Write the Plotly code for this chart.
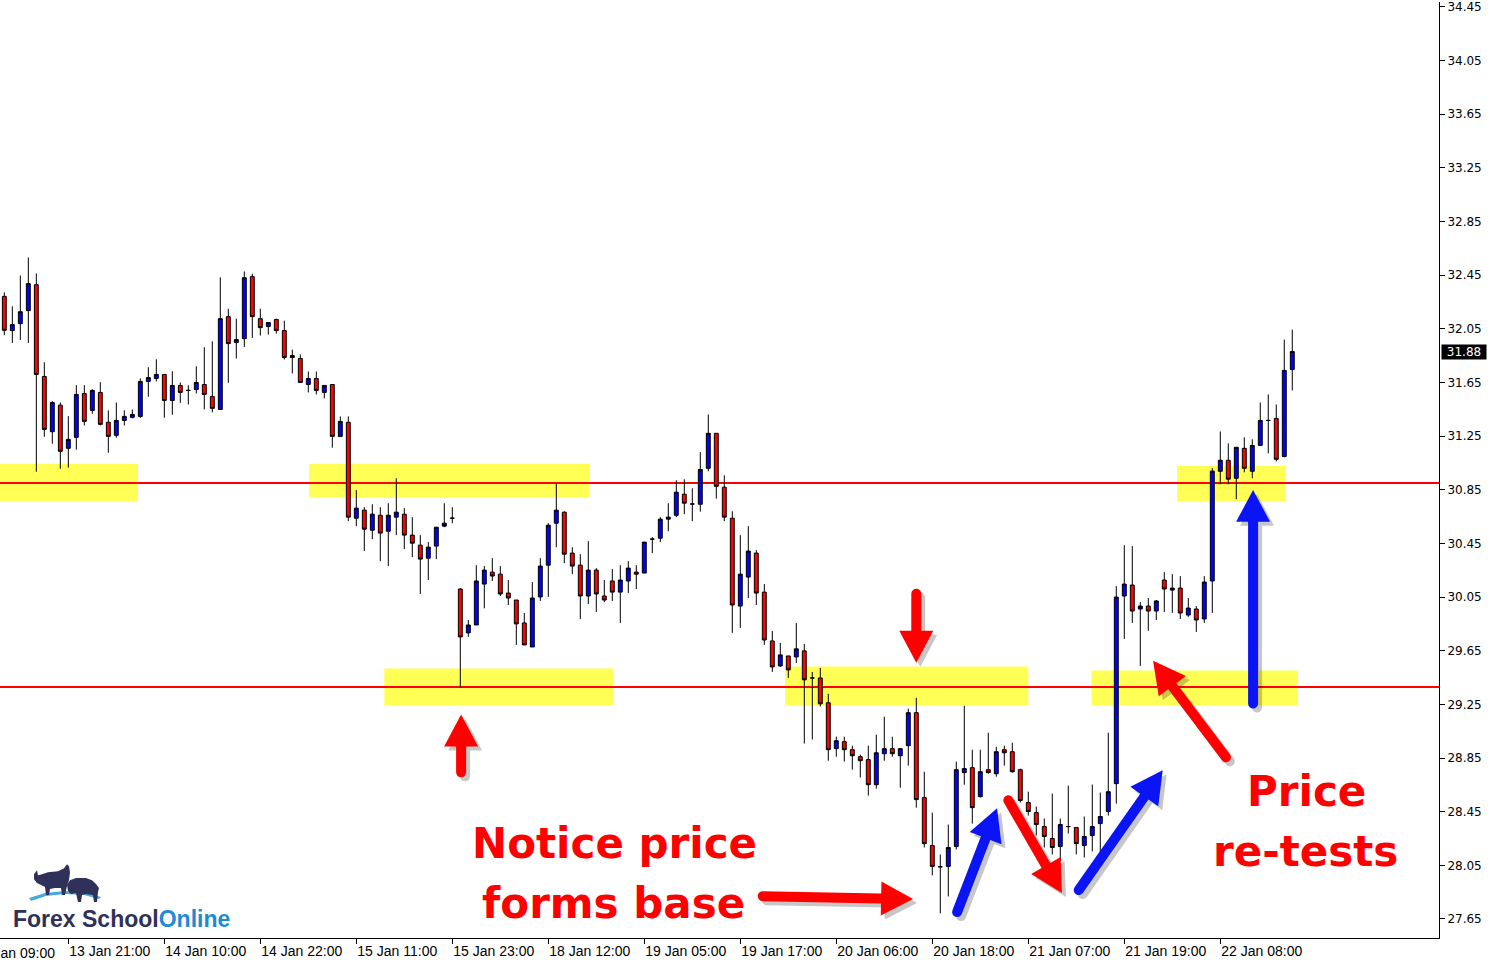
import math
import plotly.graph_objects as go

# hourly candles (index 0 = first visible bar)
opens = [32.292, 32.037, 32.089, 32.186, 32.379, 31.695, 31.283, 31.481, 31.159, 31.241,
         31.568, 31.442, 31.576, 31.353, 31.256, 31.367, 31.390, 31.397, 31.658, 31.680,
         31.710, 31.516, 31.628, 31.591, 31.598, 31.635, 31.546, 31.449, 32.141, 31.948,
         31.977, 32.439, 32.126, 32.067, 32.119, 32.037, 31.851, 31.829, 31.635, 31.680,
         31.576, 31.635, 31.248, 31.353, 30.638, 30.698, 30.549, 30.660, 30.541, 30.646,
         30.668, 30.512, 30.437, 30.340, 30.430, 30.579, 30.638, 30.110, 29.783, 29.842,
         30.147, 30.236, 30.221, 30.080, 30.028, 29.857, 29.678, 30.051, 30.288, 30.601,
         30.683, 30.378, 30.288, 30.058, 30.251, 30.058, 30.170, 30.087, 30.170, 30.236,
         30.229, 30.482, 30.489, 30.631, 30.660, 30.817, 30.744, 30.742, 31.010, 31.271,
         30.869, 30.638, 29.983, 30.199, 30.378, 30.087, 29.723, 29.537, 29.611, 29.604,
         29.649, 29.447, 29.447, 29.262, 28.920, 28.972, 28.912, 28.860, 28.838, 28.651,
         28.882, 28.920, 28.867, 28.942, 29.188, 28.555, 28.198, 28.039, 28.042, 28.191,
         28.741, 28.778, 28.562, 28.763, 28.733, 28.912, 28.897, 28.763, 28.518, 28.443,
         28.339, 28.250, 28.191, 28.339, 28.332, 28.198, 28.272, 28.361, 28.451, 28.659,
         30.058, 30.140, 29.961, 29.983, 29.946, 30.177, 30.102, 30.117, 29.916, 29.961,
         29.887, 30.170, 30.988, 31.070, 30.936, 31.159, 30.988, 31.181, 31.367, 31.382,
         31.099, 31.747]
highs = [32.322, 32.218, 32.448, 32.582, 32.463, 31.801, 31.511, 31.501, 31.399, 31.630,
         31.630, 31.600, 31.652, 31.442, 31.501, 31.442, 31.449, 31.680, 31.764, 31.823,
         31.710, 31.734, 31.650, 31.630, 31.771, 31.913, 31.957, 32.434, 32.200, 32.126,
         32.478, 32.461, 32.200, 32.097, 32.126, 32.111, 31.895, 31.858, 31.732, 31.732,
         31.628, 31.635, 31.397, 31.397, 30.847, 30.720, 30.742, 30.720, 30.750, 30.936,
         30.713, 30.646, 30.512, 30.460, 30.571, 30.750, 30.720, 30.117, 29.879, 30.288,
         30.281, 30.340, 30.281, 30.177, 30.028, 29.931, 30.162, 30.340, 30.601, 30.899,
         30.690, 30.422, 30.370, 30.467, 30.266, 30.177, 30.259, 30.288, 30.318, 30.288,
         30.460, 30.497, 30.646, 30.750, 30.921, 30.928, 30.861, 31.131, 31.412, 31.271,
         30.958, 30.690, 30.512, 30.579, 30.400, 30.147, 29.797, 29.708, 29.611, 29.857,
         29.701, 29.492, 29.522, 29.329, 29.009, 29.009, 28.942, 28.875, 28.942, 29.024,
         29.158, 29.009, 28.920, 29.218, 29.299, 28.748, 28.443, 28.131, 28.354, 28.823,
         29.239, 28.912, 28.912, 29.039, 28.934, 28.942, 28.964, 28.771, 28.599, 28.488,
         28.399, 28.585, 28.399, 28.644, 28.332, 28.414, 28.652, 28.592, 29.039, 30.132,
         30.437, 30.430, 30.013, 30.043, 30.028, 30.236, 30.221, 30.206, 30.043, 29.983,
         30.206, 31.011, 31.285, 31.196, 31.167, 31.241, 31.226, 31.501, 31.561, 31.486,
         31.970, 32.044]
lows = [32.002, 31.945, 31.967, 31.945, 30.985, 31.245, 31.193, 31.007, 31.015, 31.149,
        31.330, 31.417, 31.330, 31.126, 31.238, 31.330, 31.382, 31.387, 31.543, 31.658,
        31.387, 31.409, 31.498, 31.486, 31.568, 31.449, 31.427, 31.449, 31.647, 31.829,
        31.915, 31.982, 32.000, 32.007, 32.015, 31.821, 31.717, 31.650, 31.576, 31.561,
        31.531, 31.164, 31.248, 30.616, 30.579, 30.393, 30.482, 30.318, 30.281, 30.512,
        30.408, 30.348, 30.073, 30.177, 30.333, 30.571, 30.601, 29.376, 29.753, 29.842,
        29.966, 30.170, 30.058, 29.991, 29.693, 29.693, 29.678, 30.021, 30.051, 30.422,
        30.303, 30.221, 29.887, 29.998, 29.939, 30.013, 30.021, 29.857, 30.080, 30.110,
        30.229, 30.378, 30.460, 30.541, 30.646, 30.668, 30.616, 30.687, 30.988, 30.784,
        30.616, 29.783, 29.820, 30.043, 29.991, 29.693, 29.492, 29.529, 29.447, 29.559,
        28.958, 28.988, 29.234, 28.830, 28.860, 28.823, 28.763, 28.704, 28.570, 28.622,
        28.830, 28.860, 28.629, 28.793, 28.480, 28.183, 27.975, 27.692, 27.818, 28.168,
        28.651, 28.361, 28.555, 28.733, 28.711, 28.793, 28.741, 28.518, 28.421, 28.272,
        28.183, 28.131, 28.079, 28.287, 28.131, 28.108, 28.153, 28.153, 28.421, 28.510,
        29.738, 29.857, 29.537, 29.798, 29.879, 29.939, 29.932, 29.887, 29.902, 29.790,
        29.857, 29.932, 30.891, 30.891, 30.780, 30.980, 30.936, 31.181, 31.122, 31.062,
        31.092, 31.591]
closes = [32.039, 32.082, 32.178, 32.387, 31.710, 31.300, 31.501, 31.137, 31.226, 31.561,
          31.360, 31.591, 31.338, 31.248, 31.367, 31.397, 31.412, 31.658, 31.687, 31.710,
          31.516, 31.628, 31.576, 31.591, 31.650, 31.561, 31.457, 32.126, 31.940, 31.970,
          32.431, 32.141, 32.059, 32.097, 32.037, 31.836, 31.836, 31.650, 31.680, 31.591,
          31.628, 31.248, 31.360, 30.646, 30.713, 30.556, 30.668, 30.527, 30.660, 30.683,
          30.512, 30.452, 30.333, 30.422, 30.571, 30.601, 30.638, 29.753, 29.842, 30.170,
          30.251, 30.207, 30.073, 30.043, 29.850, 29.693, 30.043, 30.281, 30.586, 30.698,
          30.370, 30.281, 30.058, 30.251, 30.073, 30.028, 30.087, 30.177, 30.266, 30.221,
          30.460, 30.482, 30.631, 30.646, 30.832, 30.750, 30.744, 31.002, 31.271, 30.876,
          30.646, 29.991, 30.221, 30.393, 30.080, 29.730, 29.529, 29.619, 29.507, 29.664,
          29.433, 29.447, 29.254, 28.912, 28.979, 28.912, 28.867, 28.830, 28.651, 28.889,
          28.920, 28.882, 28.920, 29.188, 28.540, 28.212, 28.042, 28.039, 28.183, 28.763,
          28.771, 28.480, 28.748, 28.741, 28.897, 28.889, 28.748, 28.533, 28.451, 28.354,
          28.265, 28.183, 28.354, 28.339, 28.212, 28.265, 28.339, 28.414, 28.599, 30.050,
          30.147, 29.946, 29.983, 29.946, 30.021, 30.110, 30.117, 29.931, 29.968, 29.879,
          30.162, 30.989, 31.070, 30.929, 31.167, 31.010, 31.181, 31.367, 31.367, 31.077,
          31.740, 31.881]
bars = list(range(len(opens)))

# time axis labels (bar index -> label)
time_ticks = [8, 20, 32, 44, 56, 68, 80, 92, 104, 116, 128, 140, 152]
time_labels = ["13 Jan 21:00", "14 Jan 10:00", "14 Jan 22:00", "15 Jan 11:00",
               "15 Jan 23:00", "18 Jan 12:00", "19 Jan 05:00", "19 Jan 17:00",
               "20 Jan 06:00", "20 Jan 18:00", "21 Jan 07:00", "21 Jan 19:00",
               "22 Jan 08:00"]
first_tick, first_label = -4, "13 Jan 09:00"

price_ticks = [27.65, 28.05, 28.45, 28.85, 29.25, 29.65, 30.05, 30.45, 30.85,
               31.25, 31.65, 32.05, 32.45, 32.85, 33.25, 33.65, 34.05, 34.45]
price_labels = [f"{p:.2f}" for p in price_ticks]
last_price = 31.88

levels = [30.90, 29.38]
# highlighted zones: (first bar, last bar, low, high)
zones = [(-0.6, 16.7, 30.767, 31.042), (38.1, 73.1, 30.790, 31.042),
         (47.5, 76.1, 29.242, 29.517), (97.6, 128.0, 29.242, 29.532),
         (135.9, 161.7, 29.242, 29.502), (146.6, 160.1, 30.767, 31.027)]

# arrows: (tail bar, tail price, tip bar, tip price, colour)
RED, BLUE = "#ff0000", "#0a14f5"
arrows = [(57.1, 28.743, 57.1, 29.174, RED),
          (114.0, 30.075, 114.0, 29.561, RED),
          (94.8, 27.820, 113.6, 27.798, RED),
          (119.1, 27.701, 124.1, 28.475, BLUE),
          (125.5, 28.535, 132.2, 27.843, RED),
          (134.3, 27.865, 144.8, 28.758, BLUE),
          (152.7, 28.855, 143.6, 29.576, RED),
          (156.1, 29.256, 156.1, 30.849, BLUE)]

notes = [("Notice price", 76.3, 28.212), ("forms base", 76.2, 27.766),
         ("Price", 162.8, 28.602), ("re-tests", 162.7, 28.155)]

# plot geometry (pixels) and ranges
PW, PH = 1439, 938
X0, X1 = -0.54, 179.34
Y0, Y1 = 27.508, 34.487


def to_px(i, p):
    return (i - X0) / (X1 - X0) * PW, (Y1 - p) / (Y1 - Y0) * PH


def to_data(px, py):
    return X0 + px / PW * (X1 - X0), Y1 - py / PH * (Y1 - Y0)


def arrow_path(t_i, t_p, h_i, h_p, shaft=10, head_w=34, head_l=32, off=0):
    tx, ty = to_px(t_i, t_p)
    hx, hy = to_px(h_i, h_p)
    tx, ty, hx, hy = tx + off, ty + off, hx + off, hy + off
    d = math.hypot(hx - tx, hy - ty)
    ux, uy = (hx - tx) / d, (hy - ty) / d
    nx, ny = -uy, ux
    bx, by = hx - ux * head_l, hy - uy * head_l
    s, w = shaft / 2, head_w / 2
    pts = [(bx + nx * s, by + ny * s), (bx + nx * w, by + ny * w), (hx, hy),
           (bx - nx * w, by - ny * w), (bx - nx * s, by - ny * s)]
    # rounded tail
    for k in range(9):
        a = math.pi * k / 8
        ca, sa = math.cos(a), math.sin(a)
        pts.append((tx - nx * s * ca - ux * s * sa, ty - ny * s * ca - uy * s * sa))
    pts = [to_data(x, y) for x, y in pts]
    return "M" + "L".join(f"{x:.3f},{y:.4f}" for x, y in pts) + "Z"


fig = go.Figure()
fig.add_trace(go.Candlestick(
    x=bars, open=opens, high=highs, low=lows, close=closes,
    increasing=dict(fillcolor="#0000ff", line=dict(color="black", width=1)),
    decreasing=dict(fillcolor="#ff0000", line=dict(color="black", width=1)),
    whiskerwidth=0, hoverinfo="skip", showlegend=False))

shapes = []
for x0, x1, lo, hi in zones:
    shapes.append(dict(type="rect", xref="x", yref="y", x0=x0, x1=x1, y0=lo, y1=hi,
                       fillcolor="#ffff55", line=dict(width=0), layer="below"))
for lv in levels:
    shapes.append(dict(type="line", xref="x", yref="y", x0=X0, x1=X1, y0=lv, y1=lv,
                       line=dict(color="#ff0000", width=2), layer="below"))
for t_i, t_p, h_i, h_p, col in arrows:
    shapes.append(dict(type="path", xref="x", yref="y", path=arrow_path(t_i, t_p, h_i, h_p, off=4),
                       fillcolor="rgba(0,0,0,0.22)", line=dict(width=0)))
    shapes.append(dict(type="path", xref="x", yref="y", path=arrow_path(t_i, t_p, h_i, h_p),
                       fillcolor=col, line=dict(width=0)))


# logo (bull & bear silhouettes plus swoosh), drawn in paper units
def paper_path(pts):
    return "M" + "L".join(f"{x / PW:.5f},{1 - y / PH:.5f}" for x, y in pts) + "Z"


bull = [(34, 874), (37, 870), (38, 875), (42, 874), (48, 872), (58, 871), (64, 868),
        (67, 864), (69, 866), (70, 872), (69, 880), (67, 886), (65, 895), (62, 895),
        (61, 888), (55, 888), (50, 889), (49, 895), (46, 895), (45, 887), (41, 885),
        (37, 883), (34, 879)]
bear = [(67, 885), (70, 880), (76, 878), (86, 878), (92, 880), (96, 884), (99, 888),
        (98, 892), (97, 902), (94, 902), (93, 895), (86, 894), (82, 895), (81, 902),
        (78, 902), (76, 893), (71, 894), (68, 891)]
swoosh = [(29, 898), (45, 893), (65, 891), (85, 892), (101, 897), (99, 899),
          (84, 895), (65, 894), (46, 896), (31, 901)]
for pts, col in [(swoosh, "#4aa8e0"), (bull, "#2f3158"), (bear, "#2f3158")]:
    shapes.append(dict(type="path", xref="paper", yref="paper", path=paper_path(pts),
                       fillcolor=col, line=dict(width=0)))

annotations = []
for text, xi, yp in notes:
    annotations.append(dict(x=xi, y=yp, xref="x", yref="y", text=text, showarrow=False,
                            xanchor="center", yanchor="middle",
                            font=dict(family="DejaVu Sans", size=42, color="#ff0000",
                                      weight="bold")))
# the first time label sits left of the visible range, so anchor it in paper units
annotations.append(dict(x=to_px(first_tick, Y0)[0] / PW, y=0, xref="paper", yref="paper",
                        text=first_label, showarrow=False, xanchor="left", yanchor="top",
                        yshift=-5,
                        font=dict(family="Liberation Sans", size=14, color="black")))
annotations.append(dict(x=1, y=last_price, xref="paper", yref="y", text=f"{last_price:.2f}",
                        showarrow=False, xanchor="left", yanchor="middle", xshift=2,
                        bgcolor="black", width=44, height=14, borderpad=0,
                        font=dict(family="DejaVu Sans", size=12, color="white")))
annotations.append(dict(x=11 / PW, y=1 - 919 / PH, xref="paper", yref="paper",
                        text="<span style='color:#2f3158'>Forex School</span>"
                             "<span style='color:#1f8ad6'>Online</span>",
                        showarrow=False, xanchor="left", yanchor="middle",
                        font=dict(family="Liberation Sans", size=23, weight="bold")))

fig.update_layout(
    width=1490, height=960,
    margin=dict(l=0, r=1490 - PW, t=0, b=960 - PH),
    paper_bgcolor="white", plot_bgcolor="white",
    shapes=shapes, annotations=annotations,
    xaxis=dict(range=[X0, X1], rangeslider=dict(visible=False), showgrid=False,
               zeroline=False, showline=True, linecolor="black", linewidth=1,
               tickmode="array", tickvals=time_ticks, ticktext=time_labels,
               ticks="outside", ticklen=5, tickcolor="black",
               ticklabelposition="outside right", ticklabeloverflow="allow",
               tickfont=dict(family="Liberation Sans", size=14, color="black")),
    yaxis=dict(range=[Y0, Y1], side="right", showgrid=False, zeroline=False,
               showline=True, linecolor="black", linewidth=1,
               tickmode="array", tickvals=price_ticks, ticktext=price_labels,
               ticks="outside", ticklen=5, tickcolor="black", ticklabeloverflow="allow",
               tickfont=dict(family="DejaVu Sans", size=12, color="black")),
)

# drop the page's default body margin so the chart sits at the window's corner
fig.write_html("out.html", config={"displayModeBar": False},
               post_script="document.body.style.margin='0';document.body.style.overflow='hidden';")
